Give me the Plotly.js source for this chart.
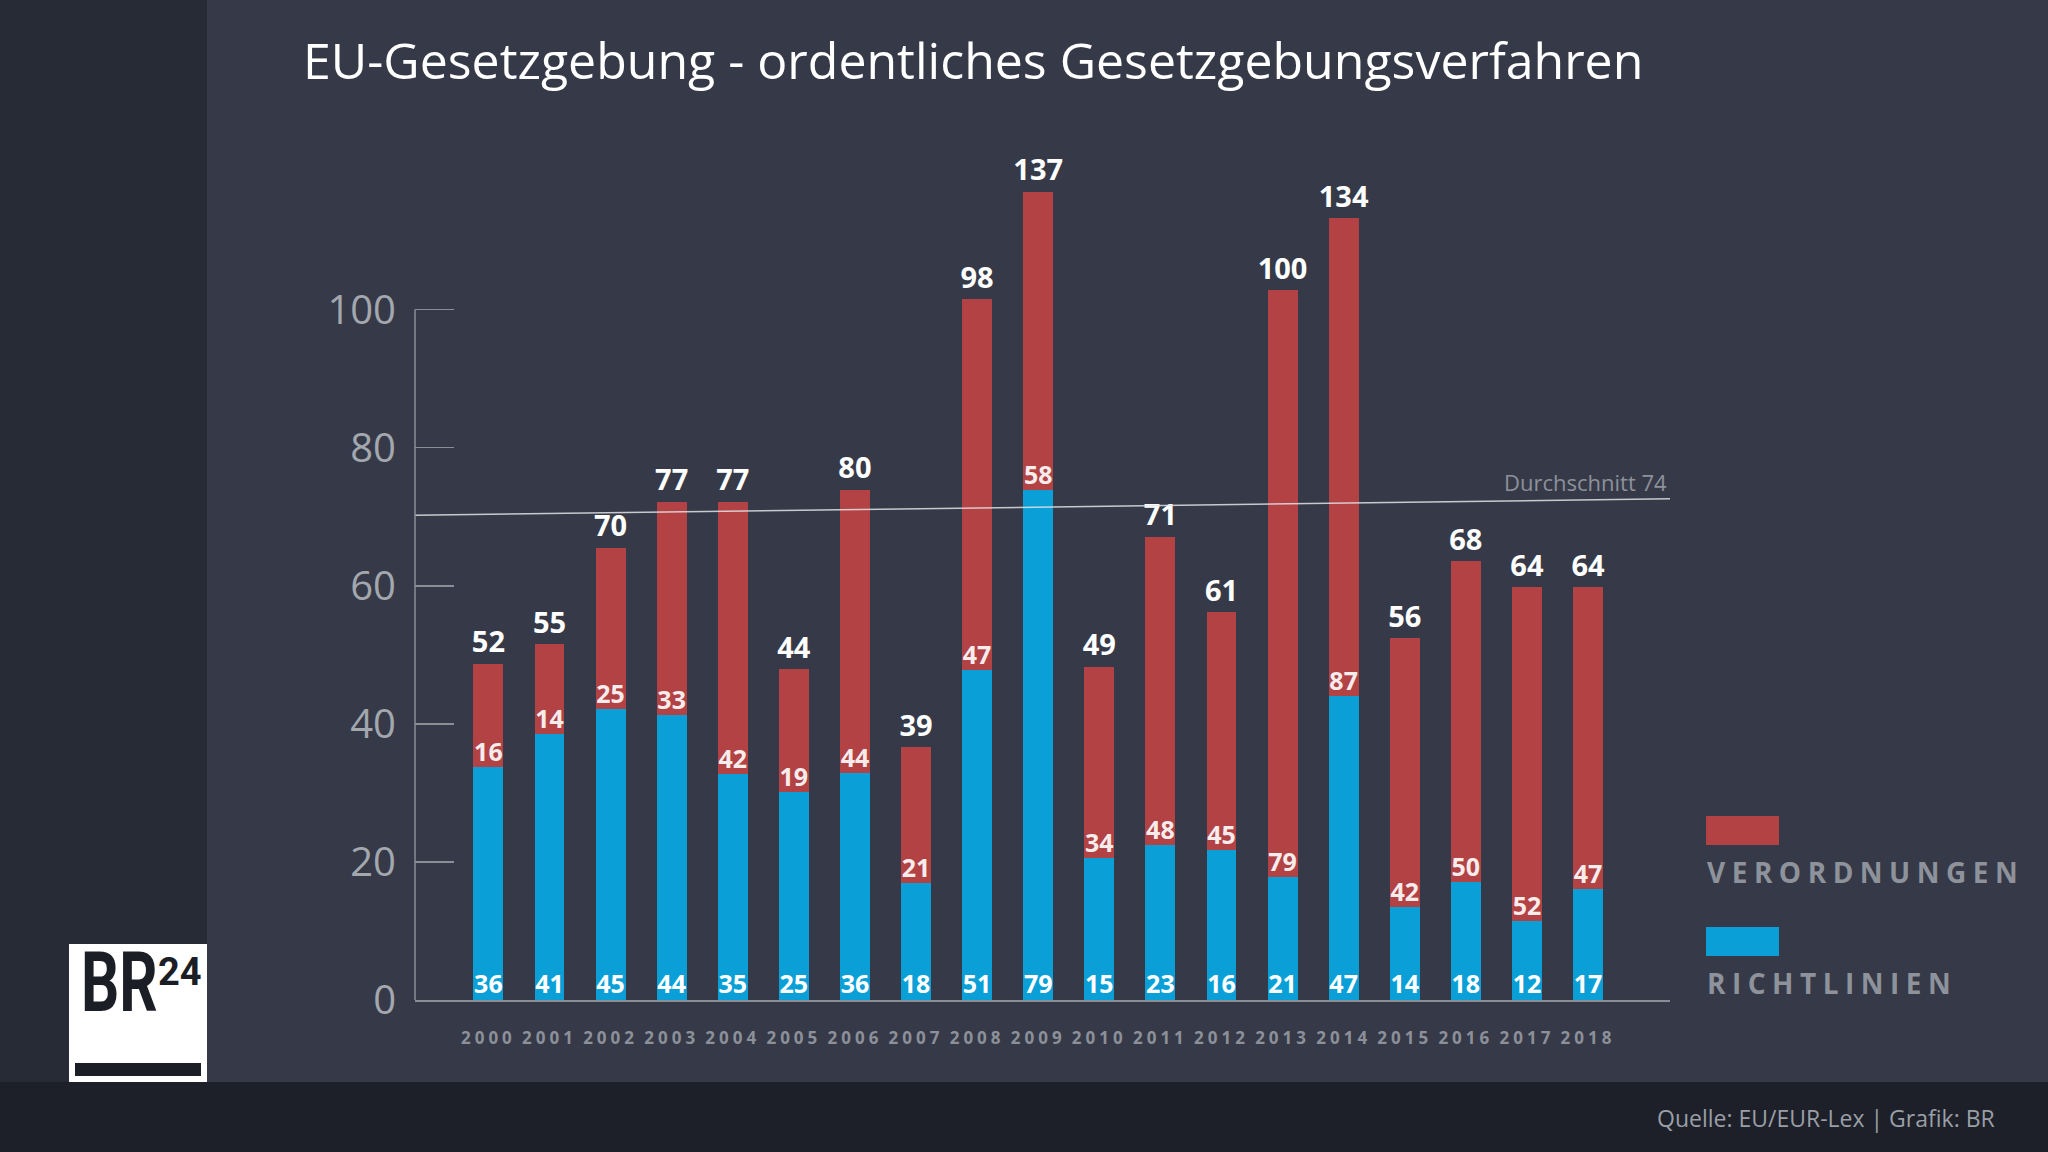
<!DOCTYPE html>
<html>
<head>
<meta charset="utf-8">
<script src="https://cdn.plot.ly/plotly-3.0.1.min.js"></script>
<style>
html, body { margin: 0; padding: 0; background: #363a48; overflow: hidden; }
#chart { width: 2048px; height: 1152px; }
.xtick text { letter-spacing: 4px; }
</style>
</head>
<body>
<div id="chart"></div>
<script>
const years = ['2000','2001','2002','2003','2004','2005','2006','2007','2008','2009',
               '2010','2011','2012','2013','2014','2015','2016','2017','2018'];
// printed values
const richtlinien  = [36, 41, 45, 44, 35, 25, 36, 18, 51, 79, 15, 23, 16, 21, 47, 14, 18, 12, 17];
const verordnungen = [16, 14, 25, 33, 42, 19, 44, 21, 47, 58, 34, 48, 45, 79, 87, 42, 50, 52, 47];
const gesamt       = [52, 55, 70, 77, 77, 44, 80, 39, 98, 137, 49, 71, 61, 100, 134, 56, 68, 64, 64];
// segment heights as drawn in the reference
const richtlinienBar  = [33.8, 38.5, 42.2, 41.3, 32.8, 30.2, 32.9, 17.0, 47.8, 73.9, 20.5, 22.5, 21.7, 17.8, 44.1, 13.4, 17.1, 11.5, 16.1];
const verordnungenBar = [14.9, 13.0, 23.3, 30.9, 39.4, 17.7, 41.0, 19.6, 53.7, 43.2, 27.8, 44.6, 34.5, 85.0, 69.1, 39.0, 46.5, 48.3, 43.7];
const durchschnitt = 74;
const durchschnittLinie = [70.2, 72.6];   // drawn average line, left and right end
const yTicks = [0, 20, 40, 60, 80, 100];

// ---- layout helpers ----
const W = 2048, H = 1152, L = 415, R = 378, T = 137, B = 152;
const PW = W - L - R, PH = H - T - B;
const px = x => (x - L) / PW;
const py = y => (H - B - y) / PH;

const RED = '#b24244', BLUE = '#0aa0d7';
const AXIS = '#8a8e97';
const FONT = 'Open Sans, Noto Sans, sans-serif';

const xIdx = years.map((_, i) => i);
const tops = richtlinienBar.map((v, i) => v + verordnungenBar[i]);
const xMin = -1.2015, xMax = 19.342;

const traces = [
  {
    type: 'bar', name: 'Richtlinien', x: xIdx, y: richtlinienBar,
    text: richtlinien.map(String), textposition: 'inside', insidetextanchor: 'start',
    textangle: 0, constraintext: 'none',
    textfont: { family: FONT, size: 25, color: '#ffffff', weight: 700 },
    marker: { color: BLUE, line: { width: 0 } }, width: 0.49, hoverinfo: 'skip'
  },
  {
    type: 'bar', name: 'Verordnungen', x: xIdx, y: verordnungenBar,
    text: verordnungen.map(String), textposition: 'inside', insidetextanchor: 'start',
    textangle: 0, constraintext: 'none',
    textfont: { family: FONT, size: 25, color: '#f7ecec', weight: 700 },
    marker: { color: RED, line: { width: 0 } }, width: 0.49, hoverinfo: 'skip'
  },
  {
    type: 'scatter', mode: 'markers+text', x: xIdx, y: tops, text: gesamt.map(String),
    textposition: 'top center', cliponaxis: false,
    marker: { size: 5, color: 'rgba(0,0,0,0)' },
    textfont: { family: FONT, size: 29, color: '#ffffff', weight: 700 },
    hoverinfo: 'skip', showlegend: false
  },
  {
    type: 'scatter', mode: 'lines', x: [xMin, 19.37], y: durchschnittLinie,
    line: { color: 'rgba(225,227,231,0.85)', width: 1.5 }, cliponaxis: false,
    hoverinfo: 'skip', showlegend: false
  }
];

const shapes = [
  // left dark strip
  { type: 'rect', xref: 'paper', yref: 'paper', x0: px(0), x1: px(207), y0: py(1082), y1: py(0),
    fillcolor: '#272b36', line: { width: 0 }, layer: 'below' },
  // bottom dark strip
  { type: 'rect', xref: 'paper', yref: 'paper', x0: px(0), x1: px(2048), y0: py(1152), y1: py(1082),
    fillcolor: '#1d2029', line: { width: 0 }, layer: 'below' },
  // logo box
  { type: 'rect', xref: 'paper', yref: 'paper', x0: px(69), x1: px(207), y0: py(1082), y1: py(944),
    fillcolor: '#ffffff', line: { width: 0 }, layer: 'below' },
  { type: 'rect', xref: 'paper', yref: 'paper', x0: px(75), x1: px(201), y0: py(1076), y1: py(1063),
    fillcolor: '#1c1e26', line: { width: 0 }, layer: 'below' },
  // y axis line (0..100)
  { type: 'line', xref: 'paper', yref: 'y', x0: 0, x1: 0, y0: 0, y1: 100,
    line: { color: AXIS, width: 1.5 } },
  // legend swatches
  { type: 'rect', xref: 'paper', yref: 'paper', x0: px(1706), x1: px(1779), y0: py(845), y1: py(816),
    fillcolor: RED, line: { width: 0 } },
  { type: 'rect', xref: 'paper', yref: 'paper', x0: px(1706), x1: px(1779), y0: py(956), y1: py(927),
    fillcolor: BLUE, line: { width: 0 } }
];

const annotations = [
  { text: 'Durchschnitt ' + durchschnitt, x: 19.33, y: durchschnittLinie[1], xref: 'x', yref: 'y',
    xanchor: 'right', yanchor: 'bottom', showarrow: false,
    font: { family: FONT, size: 22, color: '#8d919a' } },
  { text: 'VERORDNUNGEN', x: px(1705), y: py(872), xref: 'paper', yref: 'paper',
    xanchor: 'left', yanchor: 'middle', showarrow: false,
    font: { family: FONT, size: 28, color: '#8e929b', weight: 700 } },
  { text: 'RICHTLINIEN', x: px(1705), y: py(983), xref: 'paper', yref: 'paper',
    xanchor: 'left', yanchor: 'middle', showarrow: false,
    font: { family: FONT, size: 28, color: '#8e929b', weight: 700 } },
  { text: 'Quelle: EU/EUR-Lex | Grafik: BR', x: px(1997), y: py(1118), xref: 'paper', yref: 'paper',
    xanchor: 'right', yanchor: 'middle', showarrow: false,
    font: { family: FONT, size: 23, color: '#9a9ea6' } },
  { text: 'BR', x: px(119), y: py(985), xref: 'paper', yref: 'paper',
    xanchor: 'center', yanchor: 'middle', showarrow: false,
    font: { family: 'Roboto, sans-serif', size: 60, color: '#1c1e26', weight: 700 } },
  { text: '24', x: px(180), y: py(972), xref: 'paper', yref: 'paper',
    xanchor: 'center', yanchor: 'middle', showarrow: false,
    font: { family: 'Roboto, sans-serif', size: 38, color: '#1c1e26', weight: 700 } }
];

const layout = {
  width: W, height: H,
  margin: { l: L, r: R, t: T, b: B, pad: 0 },
  paper_bgcolor: '#363a48', plot_bgcolor: 'rgba(0,0,0,0)',
  showlegend: false, barmode: 'stack',
  title: {
    text: 'EU-Gesetzgebung - ordentliches Gesetzgebungsverfahren',
    x: 303 / W, xref: 'container', xanchor: 'left',
    y: 1 - 61.5 / H, yref: 'container', yanchor: 'middle',
    font: { family: FONT, size: 50, color: '#ffffff', weight: 400 }
  },
  xaxis: {
    range: [xMin, xMax], tickvals: xIdx, ticktext: years,
    tickfont: { family: FONT, size: 17, color: '#8c9099', weight: 700 },
    ticks: '', showline: true, linecolor: AXIS, linewidth: 1.5,
    showgrid: false, zeroline: false, ticklabelstandoff: 22, fixedrange: true
  },
  yaxis: {
    range: [0, 125], tickvals: yTicks, ticktext: yTicks.map(String),
    tickfont: { family: FONT, size: 40, color: '#a3a7ae' },
    ticks: 'inside', ticklen: 39, tickwidth: 1.5, tickcolor: AXIS,
    showline: false, showgrid: false, zeroline: false, ticklabelstandoff: 18, fixedrange: true
  },
  shapes: shapes,
  annotations: annotations,
  uniformtext: { mode: 'show', minsize: 25 }
};

function spread(t, s) {
  const n = t.textContent.length;
  t.style.letterSpacing = s + 'px';
  const x = parseFloat(t.getAttribute('x') || '0');
  t.setAttribute('x', x + n * s / 2);
}

Plotly.newPlot('chart', traces, layout, { displayModeBar: false, staticPlot: true }).then(() => {
  document.querySelectorAll('.annotation-text').forEach(t => {
    const s = t.textContent;
    if (s === 'VERORDNUNGEN' || s === 'RICHTLINIEN') spread(t, 6.5);
    if (s === 'BR') {
      const bb = t.getBBox();
      const cy = bb.y + bb.height * 0.62;
      t.setAttribute('transform', `translate(0,${cy}) scale(1,1.4) translate(0,${-cy})`);
    }
  });
  // nudge the in-bar value labels slightly down, as in the reference
  document.querySelectorAll('.trace.bars').forEach((g, k) => {
    const dy = k === 0 ? 3 : 4;
    g.querySelectorAll('text.bartext').forEach(t => {
      const tr = t.getAttribute('transform') || '';
      t.setAttribute('transform', `translate(0,${dy}) ` + tr);
    });
  });
});
</script>
</body>
</html>
